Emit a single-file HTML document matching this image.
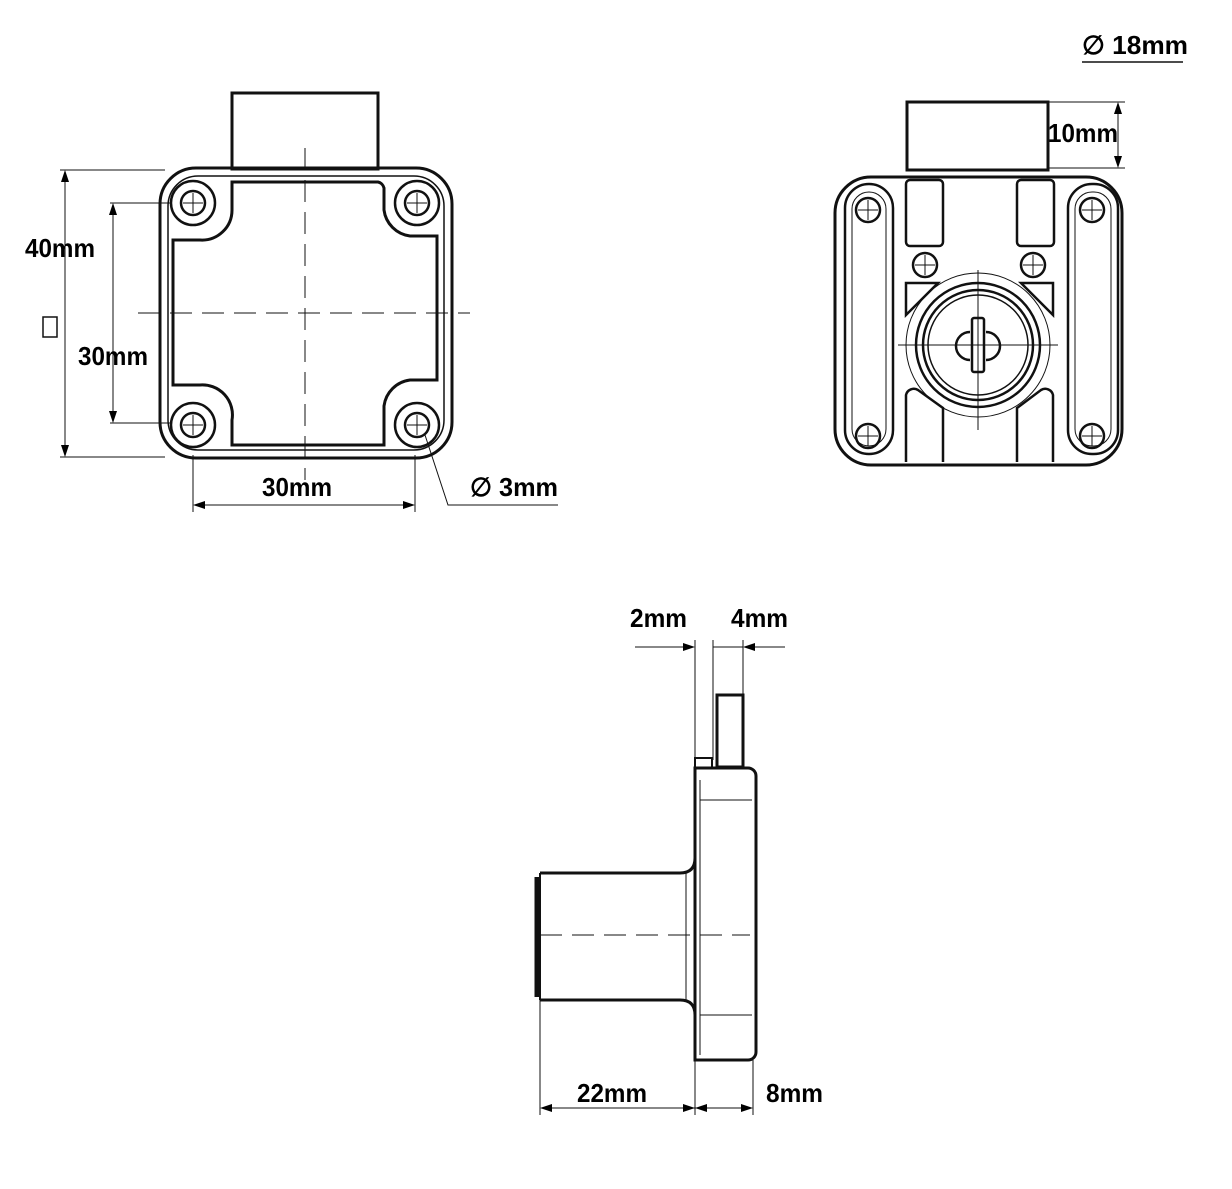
<!DOCTYPE html>
<html><head><meta charset="utf-8"><style>
html,body{margin:0;padding:0;background:#fff}
svg{display:block}
text{font-family:"Liberation Sans Narrow","Liberation Sans",sans-serif;font-weight:bold;font-size:26px;fill:#000}
</style></head><body>
<svg width="1232" height="1189" viewBox="0 0 1232 1189" xmlns="http://www.w3.org/2000/svg">
<g fill="none" stroke="#111" stroke-width="3">
<!-- FRONT VIEW -->
<rect x="232" y="93" width="146" height="76"/>
<rect x="160" y="168" width="292" height="290" rx="36"/>
<rect x="168" y="176" width="276" height="274" rx="30" stroke-width="1.5"/>
<path d="M232 182 H378 A8 8 0 0 1 384 188 V210 A30 30 0 0 0 410 236 H437 V380 H410 A30 30 0 0 0 384 406 V445 H232 V420 A30 30 0 0 0 200 385 H173 V240 H200 A30 30 0 0 0 232 210 Z"/>
<g stroke-width="2.5">
<circle cx="193" cy="203" r="22"/><circle cx="193" cy="203" r="12"/>
<circle cx="417" cy="203" r="22"/><circle cx="417" cy="203" r="12"/>
<circle cx="193" cy="425" r="22"/><circle cx="193" cy="425" r="12"/>
<circle cx="417" cy="425" r="22"/><circle cx="417" cy="425" r="12"/>
</g>
<g stroke-width="1">
<path d="M193 193V213M183 203H203M417 193V213M407 203H427M193 415V435M183 425H203M417 415V435M407 425H427"/>
<path d="M305 148V480M138 313H470" stroke-dasharray="22 10"/>
<path d="M60 170H165M60 457H165M110 203H170M110 423H170M193 455V512M415 455V512"/>
<path d="M65 172V455M113 205V421M195 505H413"/>
<path d="M425 435L448 505H558"/>
</g>
<rect x="43" y="317" width="14" height="20" stroke-width="1.5"/>

<!-- RIGHT VIEW -->
<rect x="907" y="102" width="141" height="68"/>
<rect x="835" y="177" width="287" height="288" rx="36"/>
<g stroke-width="2.5">
<rect x="845" y="184" width="48" height="270" rx="24"/>
<rect x="1068" y="184" width="50" height="270" rx="24"/>
<rect x="852" y="192" width="34" height="254" rx="17" stroke-width="1"/>
<rect x="1075" y="192" width="36" height="254" rx="17" stroke-width="1"/>
<circle cx="868" cy="210" r="12"/><circle cx="1092" cy="210" r="12"/>
<circle cx="868" cy="436" r="12"/><circle cx="1092" cy="436" r="12"/>
<rect x="906" y="180" width="37" height="66" rx="4"/>
<rect x="1017" y="180" width="37" height="66" rx="4"/>
<circle cx="925" cy="265" r="12"/><circle cx="1033" cy="265" r="12"/>
<path d="M906 283H938L906 315Z"/><path d="M1053 283H1021L1053 315Z"/>
<path d="M906 462V395A8 8 0 0 1 918 390L943 408V462"/>
<path d="M1053 462V395A8 8 0 0 0 1041 390L1017 408V462"/>
<circle cx="978" cy="345" r="62"/><circle cx="978" cy="345" r="55"/><circle cx="978" cy="345" r="50" stroke-width="1.5"/>
<circle cx="978" cy="345" r="72" stroke-width="1"/>
<rect x="972" y="318" width="12" height="54" rx="2"/>
<path d="M970 332A14 14 0 0 0 970 360M986 332A14 14 0 0 1 986 360"/>
</g>
<g stroke-width="1">
<path d="M978 270V430M898 345H1058M925 255V275M915 265H935M1033 255V275M1023 265H1043M868 200V220M858 210H878M1092 200V220M1082 210H1102M868 426V446M858 436H878M1092 426V446M1082 436H1102"/>
<path d="M1048 102H1125M1048 168H1125"/>
<path d="M1118 104V166"/>
<path d="M1082 62H1183" stroke-width="1.5"/>
</g>

<!-- SIDE VIEW -->
<path d="M695 768H748A8 8 0 0 1 756 776V1052A8 8 0 0 1 748 1060H695Z"/>
<rect x="717" y="695" width="26" height="72"/>
<rect x="695" y="758" width="17" height="10" stroke-width="2"/>
<path d="M540 873H680Q695 873 695 858M540 1000H680Q695 1000 695 1015"/>
<path d="M540 873V1000" stroke-width="2"/>
<path d="M537 877V997" stroke-width="5"/>
<g stroke-width="1">
<path d="M686 873V1000M700 800H752M700 1015H752M700 780V1055"/>
<path d="M540 935H750" stroke-dasharray="22 10"/>
<path d="M695 640V770M713 640V760M743 640V695M540 1000V1115M695 1060V1115M753 1060V1115"/>
<path d="M635 647H693M785 647H745M713 647H743"/>
<path d="M542 1108H751"/>
</g>
</g>
<!-- arrowheads -->
<g fill="#000">
<path d="M65 170L61 182L69 182Z"/><path d="M65 457L61 445L69 445Z"/>
<path d="M113 203L109 215L117 215Z"/><path d="M113 423L109 411L117 411Z"/>
<path d="M193 505L205 501L205 509Z"/><path d="M415 505L403 501L403 509Z"/>
<path d="M1118 102L1114 114L1122 114Z"/><path d="M1118 168L1114 156L1122 156Z"/>
<path d="M695 647L683 643L683 651Z"/><path d="M743 647L755 643L755 651Z"/>
<path d="M540 1108L552 1104L552 1112Z"/><path d="M695 1108L683 1104L683 1112Z"/>
<path d="M695 1108L707 1104L707 1112Z"/><path d="M753 1108L741 1104L741 1112Z"/>
</g>
<text x="25" y="257" textLength="70" lengthAdjust="spacingAndGlyphs">40mm</text>
<text x="78" y="365" textLength="70" lengthAdjust="spacingAndGlyphs">30mm</text>
<text x="262" y="496" textLength="70" lengthAdjust="spacingAndGlyphs">30mm</text>
<text x="470" y="496" textLength="88" lengthAdjust="spacingAndGlyphs">∅ 3mm</text>
<text x="1082" y="54" textLength="106" lengthAdjust="spacingAndGlyphs">∅ 18mm</text>
<text x="1048" y="142" textLength="70" lengthAdjust="spacingAndGlyphs">10mm</text>
<text x="630" y="627" textLength="57" lengthAdjust="spacingAndGlyphs">2mm</text>
<text x="731" y="627" textLength="57" lengthAdjust="spacingAndGlyphs">4mm</text>
<text x="577" y="1102" textLength="70" lengthAdjust="spacingAndGlyphs">22mm</text>
<text x="766" y="1102" textLength="57" lengthAdjust="spacingAndGlyphs">8mm</text>
</svg>
</body></html>
